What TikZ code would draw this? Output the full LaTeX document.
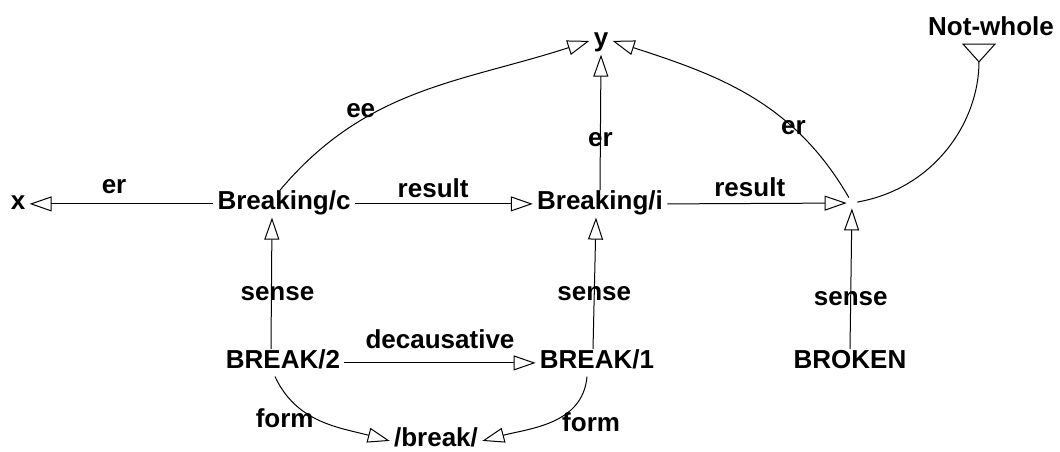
\documentclass[tikz,border=0pt]{standalone}
\usepackage{fontspec}
\setmainfont{Liberation Sans}
\usetikzlibrary{arrows.meta}

\begin{document}
\begin{tikzpicture}
[   x=0.5pt, y=0.5pt,
    wnode/.style={inner sep=2pt,text height=0.72em,text depth=0.21em,anchor=base,font=\fontsize{13}{15}\selectfont\bfseries},
    lnode/.style={inner sep=0pt,font=\fontsize{13}{15}\selectfont\bfseries},
    link/.style={line width=0.5pt,-{Triangle[open,length=11pt,width=7.5pt]}},
    isa/.style={line width=0.5pt,{Triangle[open,reversed,length=9.5pt,width=17pt]}-},
]
    \useasboundingbox (0,0) rectangle (1060,-451);

%%%%%%%%%%%%%%%%%%%% TOP ROW %%%%%%%%%%%%%%%%%%%%%%%%%%%%%%%%%%%
    \node[wnode] (y) at (601,-46) {y};
    \node[wnode] (nw) at (991,-35) {Not-whole};


%%%%%%%%%%%%%%%%%%%% SENSE ROW %%%%%%%%%%%%%%%%%%%%%%%%%%%%%%%%%%%
    \node[wnode] (x) at (18,-209) {x};
    \node[wnode] (bc) at (284,-209) {Breaking/c};
    \node[wnode] (bi) at (600,-209) {Breaking/i};
    \node[inner sep=0pt,minimum size=5pt] (res) at (852,-203) {};
    \draw[link] (bc.west) -- node[lnode,above=5pt,pos=0.54] {er} (x.east);
    \draw[link] (bc.east) -- node[lnode,above=3pt,pos=0.44] {result} (bi.west);
    \draw[link] (bi.east) -- node[lnode,above=3pt,pos=0.46] {result} (res);
    \draw[link] (bi.north) -- node[lnode,pos=0.37] {er} (y.south);
    \draw[link] ([xshift=-2pt]bc.north) to[out=50,in=198] node[lnode,above=1pt,pos=0.3] {ee} (y.west);
    \draw[link] (res) to[out=120,in=-18] node[lnode,pos=0.3] {er} (y.east);
    \draw[isa] ([xshift=-6pt]nw.south) to[out=-90,in=10] (res);


%%%%%%%%%%%%%%%%%%%% LEXEME ROW %%%%%%%%%%%%%%%%%%%%%%%%%%%%%%%%%%%
    \node[wnode] (b2) at (283,-368) {BREAK/2};
    \node[wnode] (b1) at (597,-368) {BREAK/1};
    \node[wnode] (bk) at (850,-368) {BROKEN};
    \draw[link] ([xshift=-6pt]b2.north) -- node[lnode,pos=0.42,xshift=3pt] {sense} ([xshift=-6pt]bc.south);
    \draw[link] ([xshift=-2pt]b1.north) -- node[lnode,pos=0.42] {sense} ([xshift=-2pt]bi.south);
    \draw[link] (bk.north) -- node[lnode,pos=0.36] {sense} (res);
    \draw[link] (b2.east) -- node[lnode,above=7pt] {decausative} (b1.west);


%%%%%%%%%%%%%%%%%%%% FORM %%%%%%%%%%%%%%%%%%%%%%%%%%%%%%%%%%%
    \node[wnode] (brk) at (436,-446) {/break/};
    \draw[link] ([xshift=-4pt]b2.south) to[out=-65,in=165] node[lnode,pos=0.45,left=1pt] {form} (brk.west);
    \draw[link] ([xshift=-5pt]b1.south) to[out=-95,in=15] node[lnode,pos=0.4,anchor=west,yshift=-3pt] {form} (brk.east);

\end{tikzpicture}
\end{document}
